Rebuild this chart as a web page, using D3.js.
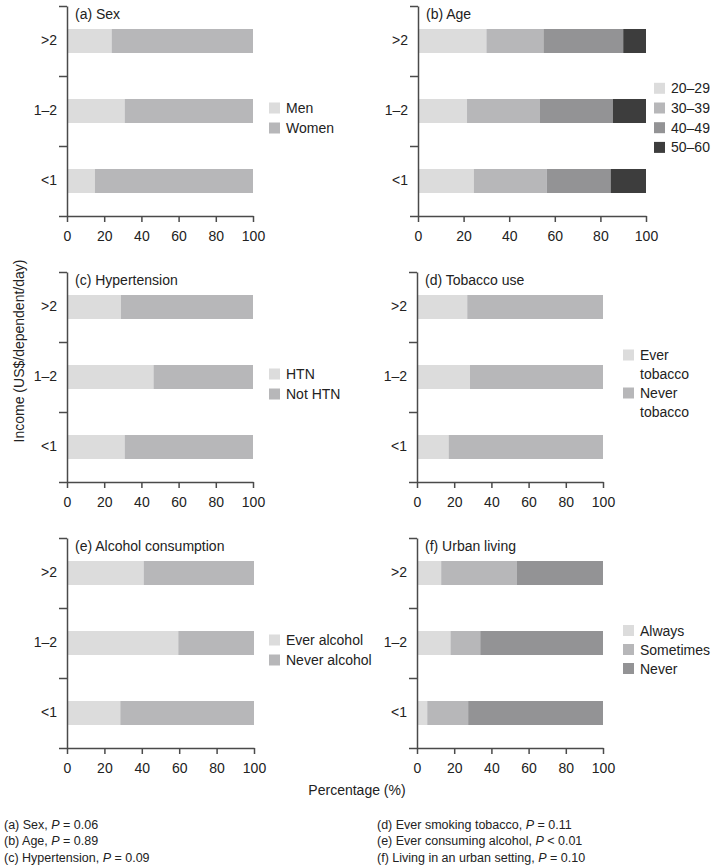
<!DOCTYPE html>
<html>
<head>
<meta charset="utf-8">
<script src="https://cdn.jsdelivr.net/npm/d3@7"></script>
<style>
  html, body { margin: 0; padding: 0; background: #fff; }
  svg { display: block; }
  text { font-family: "Liberation Sans", Arial, Helvetica, sans-serif; fill: #222; }
</style>
</head>
<body>
<svg id="chart" width="717" height="868"></svg>
<script>
// ---------- DATA ----------
const incomeCategories = [">2", "1–2", "<1"];
const xTickValues = [0, 20, 40, 60, 80, 100];

const sexLabels = ["Men", "Women"];
const sexMen = [24, 31, 15];
const sexWomen = [76, 69, 85];

const ageLabels = ["20–29", "30–39", "40–49", "50–60"];
const age2029 = [30, 21.5, 24.5];
const age3039 = [25, 32, 32];
const age4049 = [35, 32, 28];
const age5060 = [10, 14.5, 15.5];

const htnLabels = ["HTN", "Not HTN"];
const htnYes = [29, 46.5, 31];
const htnNo = [71, 53.5, 69];

const tobaccoLabels = [["Ever", "tobacco"], ["Never", "tobacco"]];
const tobaccoEver = [27, 28.5, 17];
const tobaccoNever = [73, 71.5, 83];

const alcoholLabels = ["Ever alcohol", "Never alcohol"];
const alcoholEver = [41, 59.5, 28.5];
const alcoholNever = [59, 40.5, 71.5];

const urbanLabels = ["Always", "Sometimes", "Never"];
const urbanAlways = [13, 18, 5.5];
const urbanSometimes = [40.5, 16, 22];
const urbanNever = [46.5, 66, 72.5];

const panelTitles = ["(a) Sex", "(b) Age", "(c) Hypertension", "(d) Tobacco use", "(e) Alcohol consumption", "(f) Urban living"];
const footLeft = [["(a) Sex, ", "P", " = 0.06"], ["(b) Age, ", "P", " = 0.89"], ["(c) Hypertension, ", "P", " = 0.09"]];
const footRight = [["(d) Ever smoking tobacco, ", "P", " = 0.11"], ["(e) Ever consuming alcohol, ", "P", " < 0.01"], ["(f) Living in an urban setting, ", "P", " = 0.10"]];

// ---------- STYLE ----------
const C_LIGHT = "#dcdcdc", C_MID = "#b7b7b9", C_DARK = "#939395", C_BLACK = "#3d3d3d";
const AXIS = "#4a4a4a";

const panels = [
  { title: panelTitles[0], series: [sexMen, sexWomen], labels: sexLabels, colors: [C_LIGHT, C_MID], x0: 67, x1: 253, y0: 6, y1: 216, legendX: 269, legendGap: 20 },
  { title: panelTitles[1], series: [age2029, age3039, age4049, age5060], labels: ageLabels, colors: [C_LIGHT, C_MID, C_DARK, C_BLACK], x0: 418, x1: 646, y0: 6, y1: 216, legendX: 654, legendGap: 19.7 },
  { title: panelTitles[2], series: [htnYes, htnNo], labels: htnLabels, colors: [C_LIGHT, C_MID], x0: 67, x1: 253, y0: 272, y1: 482, legendX: 269, legendGap: 20 },
  { title: panelTitles[3], series: [tobaccoEver, tobaccoNever], labels: tobaccoLabels, colors: [C_LIGHT, C_MID], x0: 417, x1: 603, y0: 272, y1: 482, legendX: 623, legendGap: 38, lineGap: 18.5 },
  { title: panelTitles[4], series: [alcoholEver, alcoholNever], labels: alcoholLabels, colors: [C_LIGHT, C_MID], x0: 67, x1: 254, y0: 538, y1: 748, legendX: 269, legendGap: 20 },
  { title: panelTitles[5], series: [urbanAlways, urbanSometimes, urbanNever], labels: urbanLabels, colors: [C_LIGHT, C_MID, C_DARK], x0: 417, x1: 603, y0: 538, y1: 748, legendX: 623, legendGap: 19 }
];

const svg = d3.select("#chart");

panels.forEach(p => {
  const g = svg.append("g");
  const x = d3.scaleLinear().domain([0, 100]).range([p.x0, p.x1]);
  const y = d3.scaleBand().domain(incomeCategories).range([p.y0, p.y1])
    .paddingInner(0.657).paddingOuter(0.3285);

  const rows = incomeCategories.map((cat, i) => {
    const o = { cat };
    p.series.forEach((s, k) => o["s" + k] = s[i]);
    return o;
  });
  const keys = p.series.map((s, k) => "s" + k);
  const stacked = d3.stack().keys(keys)(rows);

  g.selectAll("g.layer").data(stacked).join("g")
    .attr("fill", (d, k) => p.colors[k])
    .selectAll("rect").data(d => d).join("rect")
    .attr("x", d => x(d[0]))
    .attr("width", d => x(d[1]) - x(d[0]))
    .attr("y", d => y(d.data.cat))
    .attr("height", y.bandwidth());

  // x axis
  const xAxis = g.append("g").attr("transform", `translate(0,${p.y1})`)
    .call(d3.axisBottom(x).tickValues(xTickValues).tickSize(6).tickSizeOuter(0).tickPadding(9));
  xAxis.selectAll("text").style("font-size", "14px").attr("fill", "#222");

  // y axis separators
  const ySep = d3.scaleLinear().domain([0, incomeCategories.length]).range([p.y0, p.y1]);
  g.append("g").attr("transform", `translate(${p.x0},0)`)
    .call(d3.axisLeft(ySep).tickValues(d3.range(incomeCategories.length + 1)).tickSize(8).tickSizeOuter(0).tickFormat(""));
  // y category labels
  const yLab = g.append("g").attr("transform", `translate(${p.x0},0)`)
    .call(d3.axisLeft(y).tickSize(0).tickPadding(10));
  yLab.select(".domain").remove();
  yLab.selectAll("text").style("font-size", "14px").attr("fill", "#222");

  g.selectAll(".domain, .tick line").attr("stroke", AXIS).attr("stroke-width", 1.5);

  // title
  g.append("text").attr("x", p.x0 + 8).attr("y", p.y0 + 13)
    .style("font-size", "14px").text(p.title);

  // legend
  const n = p.labels.length;
  const mid = (p.y0 + p.y1) / 2;
  const firstY = mid - 3 - (n > 2 ? (n - 2) * p.legendGap / 2 : 0);
  const lg = g.append("g");
  p.labels.forEach((lab, k) => {
    const cy = (p.lineGap ? mid - 22 : firstY) + k * p.legendGap;
    lg.append("rect").attr("x", p.legendX).attr("y", cy - 5.5).attr("width", 11).attr("height", 11).attr("fill", p.colors[k]);
    const lines = Array.isArray(lab) ? lab : [lab];
    lines.forEach((ln, j) => {
      lg.append("text").attr("x", p.legendX + 17).attr("y", cy + j * (p.lineGap || 0))
        .attr("dy", "0.36em").style("font-size", "14px").text(ln);
    });
  });
});

// y axis title
svg.append("text")
  .attr("transform", "translate(19,351) rotate(-90)")
  .attr("text-anchor", "middle").attr("dy", "0.36em")
  .style("font-size", "14px").text("Income (US$/dependent/day)");

// x axis title
svg.append("text").attr("x", 357).attr("y", 790).attr("dy", "0.36em")
  .attr("text-anchor", "middle").style("font-size", "14px").text("Percentage (%)");

// footnotes
function foot(list, x0) {
  list.forEach((parts, i) => {
    const t = svg.append("text").attr("x", x0).attr("y", 824 + i * 16.5).attr("dy", "0.36em").style("font-size", "12.5px");
    parts.forEach((s, k) => t.append("tspan").style("font-style", k === 1 ? "italic" : "normal").text(s));
  });
}
foot(footLeft, 4);
foot(footRight, 377);
</script>
</body>
</html>
